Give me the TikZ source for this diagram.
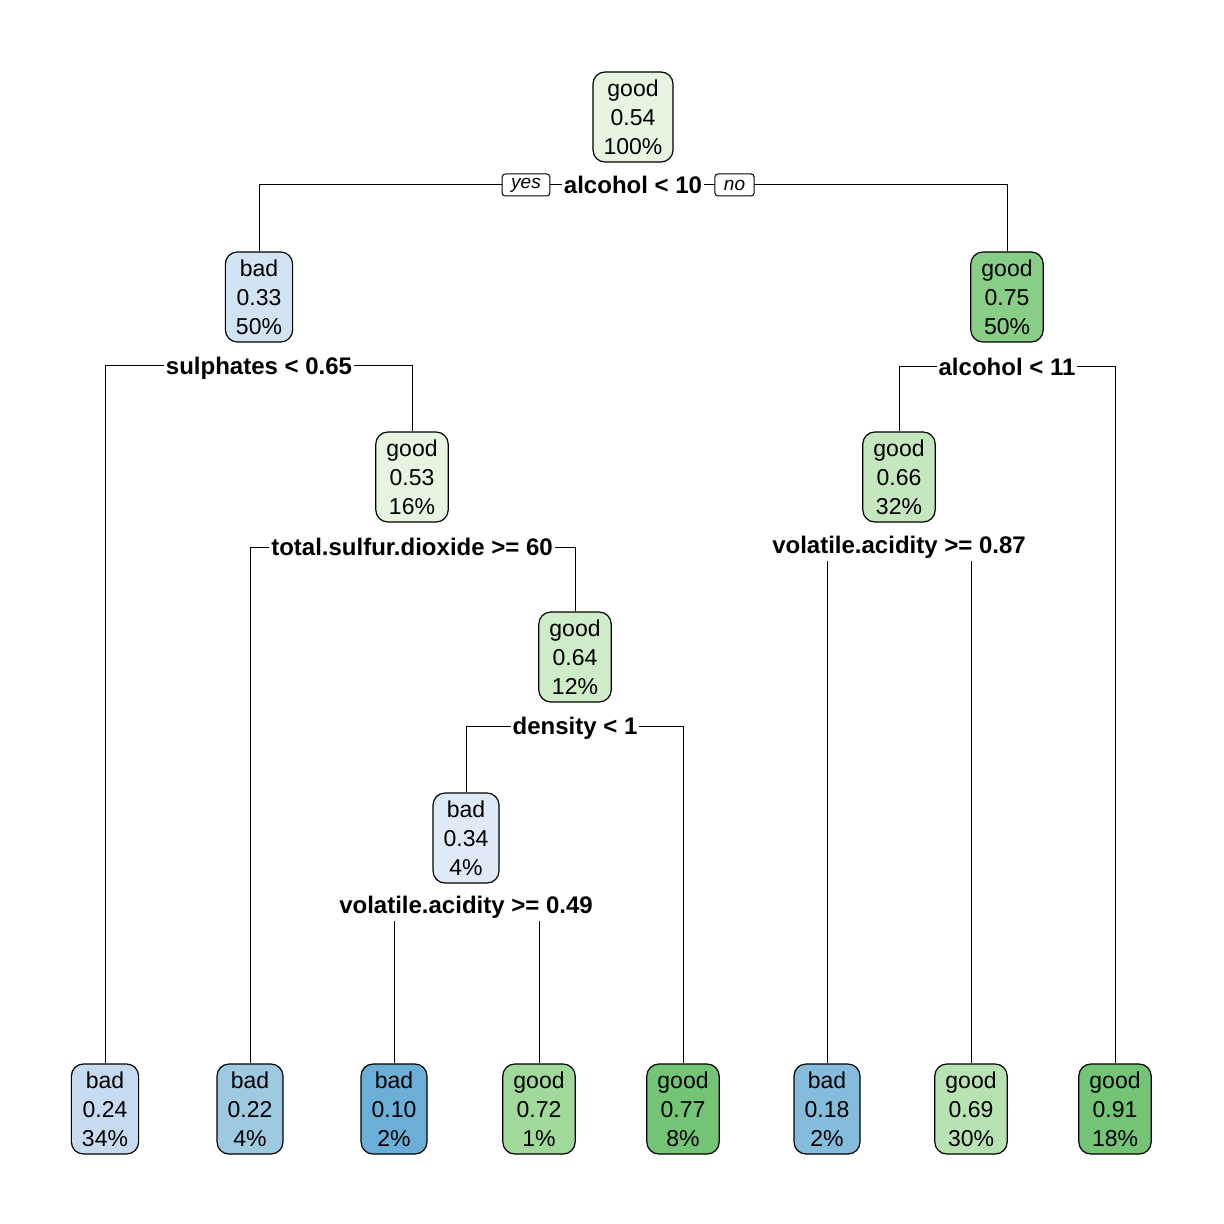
\documentclass[tikz,border=0pt]{standalone}
\usepackage{fontspec}
\setmainfont{Liberation Sans}
\usetikzlibrary{backgrounds}

\definecolor{g54}{HTML}{E5F5E0}
\definecolor{b33}{HTML}{D2E3F3}
\definecolor{g75}{HTML}{88CE87}
\definecolor{g53}{HTML}{E5F5E0}
\definecolor{g64}{HTML}{CFECC8}
\definecolor{b34}{HTML}{DEEBF7}
\definecolor{g66}{HTML}{C4E7BD}
\definecolor{b24}{HTML}{C6DBEF}
\definecolor{b22}{HTML}{9ECAE1}
\definecolor{b10}{HTML}{6BAED6}
\definecolor{g72}{HTML}{A1D99B}
\definecolor{g77}{HTML}{74C476}
\definecolor{b18}{HTML}{85BCDC}
\definecolor{g69}{HTML}{B7E2B1}
\definecolor{g91}{HTML}{74C476}

\tikzset{
  leafbox/.style={draw=black,line width=0.6pt,rounded corners=6pt,fill=#1,
    align=center,inner xsep=5.3pt,minimum height=45pt,
    font=\fontsize{11.5}{14.5}\selectfont},
  splitlab/.style={fill=white,inner xsep=1pt,inner ysep=1pt,
    text height=11pt,text depth=2.5pt,font=\fontsize{12}{14}\selectfont\bfseries},
  yesno/.style={draw=black,line width=0.5pt,fill=white,rounded corners=1.5pt,
    inner xsep=4.5pt,inner ysep=0pt,minimum height=11pt,
    font=\fontsize{9.5}{11}\selectfont\itshape},
  edge/.style={line width=0.5pt}
}

\begin{document}
\begin{tikzpicture}[x=0.5pt,y=-0.5pt]
\useasboundingbox (0,0) rectangle (1224,1224);
% inner nodes
\node[leafbox=g54] (n1) at (633,117) {good\\0.54\\100\%};
\node[leafbox=b33] (n2) at (259,297) {bad\\0.33\\50\%};
\node[leafbox=g75] (n3) at (1007,297) {good\\0.75\\50\%};
\node[leafbox=g53] (n4) at (412,477) {good\\0.53\\16\%};
\node[leafbox=g66] (n7) at (899,477) {good\\0.66\\32\%};
\node[leafbox=g64] (n5) at (575,657) {good\\0.64\\12\%};
\node[leafbox=b34] (n6) at (466,838) {bad\\0.34\\4\%};
% leaves
\node[leafbox=b24] (l1) at (105,1109) {bad\\0.24\\34\%};
\node[leafbox=b22] (l2) at (250,1109) {bad\\0.22\\4\%};
\node[leafbox=b10] (l3) at (394,1109) {bad\\0.10\\2\%};
\node[leafbox=g72] (l4) at (539,1109) {good\\0.72\\1\%};
\node[leafbox=g77] (l5) at (683,1109) {good\\0.77\\8\%};
\node[leafbox=b18] (l6) at (827,1109) {bad\\0.18\\2\%};
\node[leafbox=g69] (l7) at (971,1109) {good\\0.69\\30\%};
\node[leafbox=g91] (l8) at (1115,1109) {good\\0.91\\18\%};
% split labels
\node[splitlab] (s1) at (633,185) {alcohol < 10};
\node[splitlab] (s2) at (259,366) {sulphates < 0.65};
\node[splitlab] (s6) at (1007,367) {alcohol < 11};
\node[splitlab] (s3) at (412,547) {total.sulfur.dioxide >= 60};
\node[splitlab] (s7) at (899,545) {volatile.acidity >= 0.87};
\node[splitlab] (s4) at (575,726) {density < 1};
\node[splitlab] (s5) at (466,905) {volatile.acidity >= 0.49};
\node[yesno] (yes) at (526,185) {yes};
\node[yesno] (no) at (734.5,185) {no};
% connectors
\begin{pgfonlayer}{background}
\draw[edge] (s1.center) -| (n2.north) (s1.center) -| (n3.north);
\draw[edge] (s2.center) -| (l1.north) (s2.center) -| (n4.north);
\draw[edge] (s3.center) -| (l2.north) (s3.center) -| (n5.north);
\draw[edge] (s4.center) -| (n6.north) (s4.center) -| (l5.north);
\draw[edge] (s5.center) -| (l3.north) (s5.center) -| (l4.north);
\draw[edge] (s6.center) -| (n7.north) (s6.center) -| (l8.north);
\draw[edge] (s7.center) -| (l6.north) (s7.center) -| (l7.north);
\end{pgfonlayer}
\end{tikzpicture}
\end{document}
